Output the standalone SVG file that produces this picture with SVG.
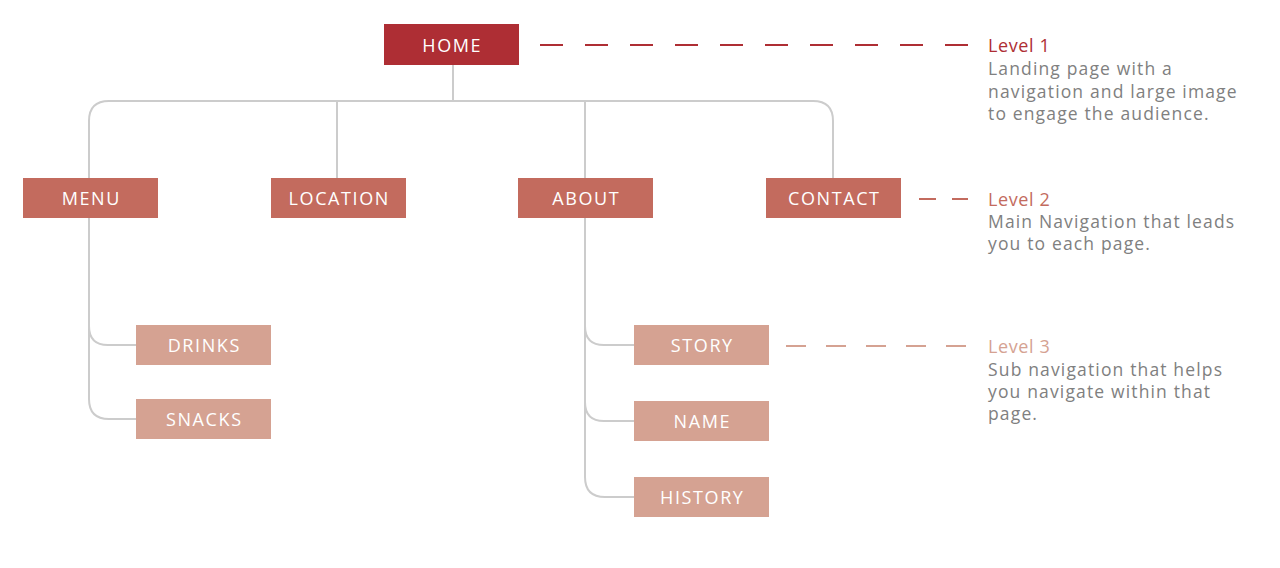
<svg xmlns="http://www.w3.org/2000/svg" width="1280" height="568" viewBox="0 0 1280 568">
<style>
.l1{fill:#ae2e34}
.l2{fill:#c36b5e}
.l3{fill:#d5a292}
.bt{font-family:"Open Sans","Liberation Sans",sans-serif;font-size:18px;fill:#ffffff;text-anchor:middle;letter-spacing:1.6px}
.conn{fill:none;stroke:#cccccc;stroke-width:2}
.ht{font-family:"Open Sans","Liberation Sans",sans-serif;font-size:18px;letter-spacing:0.6px}
.dt{font-family:"Open Sans","Liberation Sans",sans-serif;font-size:17.5px;fill:#808080;letter-spacing:1.15px}
</style>
<rect width="1280" height="568" fill="#ffffff"/>
<g id="connectors">
<path class="conn" d="M453 65 V101"/>
<path class="conn" d="M89 178 V121 Q89 101 109 101 H813 Q833 101 833 121 V178"/>
<path class="conn" d="M337 101 V178"/>
<path class="conn" d="M585 101 V178"/>
<path class="conn" d="M89 218 V399 Q89 419 109 419 H136"/>
<path class="conn" d="M89 326 Q89 345 108 345 H136"/>
<path class="conn" d="M585 218 V477 Q585 497 605 497 H634"/>
<path class="conn" d="M585 326 Q585 345 604 345 H634"/>
<path class="conn" d="M585 402 Q585 421 604 421 H634"/>
</g>
<g id="guides">
<path d="M540 45 H968" stroke="#ae2e34" stroke-width="2" stroke-dasharray="23 22" fill="none"/>
<path d="M919 199 H968" stroke="#c36b5e" stroke-width="2" stroke-dasharray="17 16" fill="none"/>
<path d="M786 346 H968" stroke="#d5a292" stroke-width="2" stroke-dasharray="20 20" fill="none"/>
</g>
<g id="home"><rect class="l1" x="384" y="24" width="135" height="41"/><text class="bt" x="452.3" y="51.5">HOME</text></g>
<g id="menu"><rect class="l2" x="23" y="178" width="135" height="40"/><text class="bt" x="91.3" y="205">MENU</text></g>
<g id="location"><rect class="l2" x="271" y="178" width="135" height="40"/><text class="bt" x="339.3" y="205">LOCATION</text></g>
<g id="about"><rect class="l2" x="518" y="178" width="135" height="40"/><text class="bt" x="586.3" y="205">ABOUT</text></g>
<g id="contact"><rect class="l2" x="766" y="178" width="135" height="40"/><text class="bt" x="834.3" y="205">CONTACT</text></g>
<g id="drinks"><rect class="l3" x="136" y="325" width="135" height="40"/><text class="bt" x="204.3" y="352">DRINKS</text></g>
<g id="snacks"><rect class="l3" x="136" y="399" width="135" height="40"/><text class="bt" x="204.3" y="426">SNACKS</text></g>
<g id="story"><rect class="l3" x="634" y="325" width="135" height="40"/><text class="bt" x="702.3" y="352">STORY</text></g>
<g id="name"><rect class="l3" x="634" y="401" width="135" height="40"/><text class="bt" x="702.3" y="428">NAME</text></g>
<g id="history"><rect class="l3" x="634" y="477" width="135" height="40"/><text class="bt" x="702.3" y="504">HISTORY</text></g>
<g id="level1-note">
<text class="ht" x="988" y="52" fill="#ae2e34">Level 1</text>
<text class="dt" x="988" y="75">Landing page with a</text>
<text class="dt" x="988" y="98">navigation and large image</text>
<text class="dt" x="988" y="120">to engage the audience.</text>
</g>
<g id="level2-note">
<text class="ht" x="988" y="206" fill="#c36b5e">Level 2</text>
<text class="dt" x="988" y="228">Main Navigation that leads</text>
<text class="dt" x="988" y="250">you to each page.</text>
</g>
<g id="level3-note">
<text class="ht" x="988" y="353" fill="#d5a292">Level 3</text>
<text class="dt" x="988" y="376">Sub navigation that helps</text>
<text class="dt" x="988" y="398">you navigate within that</text>
<text class="dt" x="988" y="420">page.</text>
</g>
</svg>
